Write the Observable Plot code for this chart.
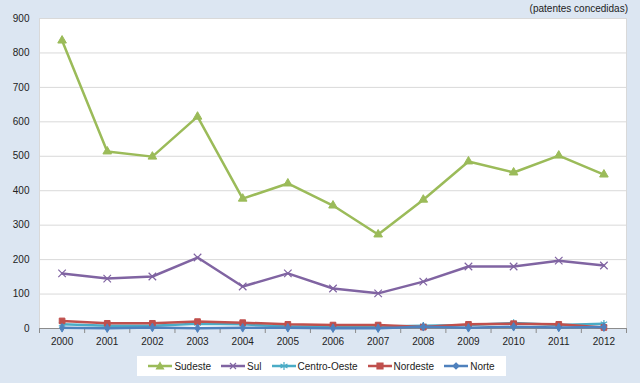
<!DOCTYPE html>
<html>
<head>
<meta charset="utf-8">
<script src="https://cdn.jsdelivr.net/npm/d3@7"></script>
<script src="https://cdn.jsdelivr.net/npm/@observablehq/plot@0.6"></script>
<style>
  body { margin: 0; }
  #wrap { position: relative; width: 640px; height: 383px; background: #dce6f2; font-family: "Liberation Sans", Arial, sans-serif; overflow: hidden; }
  #title { position: absolute; right: 12px; top: 3px; font-size: 10px; color: #222; }
  #chart { position: absolute; left: 0; top: 0; }
  #legend { position: absolute; left: 137px; top: 356px; width: 369px; height: 20px; background: #fff; display: flex; align-items: center; justify-content: center; gap: 10px; font-size: 10px; color: #222; }
  .item { display: flex; align-items: center; gap: 2px; }
</style>
</head>
<body>
<div id="wrap">
  <div id="chart"></div>
  <div id="title">(patentes concedidas)</div>
  <div id="legend"></div>
</div>
<script>
const years = [2000, 2001, 2002, 2003, 2004, 2005, 2006, 2007, 2008, 2009, 2010, 2011, 2012];
const sudeste = [836, 514, 499, 615, 377, 421, 357, 273, 374, 485, 453, 502, 447];
const sul = [160, 145, 151, 206, 122, 160, 116, 102, 136, 180, 180, 197, 183];
const centroOeste = [12, 8, 8, 14, 12, 6, 6, 6, 8, 10, 16, 10, 14];
const nordeste = [22, 15, 15, 20, 17, 12, 10, 10, 4, 12, 14, 12, 3];
const norte = [2, 1, 3, 1, 2, 2, 1, 1, 5, 2, 5, 3, 4];
const yTicks = [0, 100, 200, 300, 400, 500, 600, 700, 800, 900];

const seriesNames = ["Sudeste", "Sul", "Centro-Oeste", "Nordeste", "Norte"];
const seriesValues = [sudeste, sul, centroOeste, nordeste, norte];
const colors = ["#9bbb59", "#8064a2", "#4bacc6", "#c0504d", "#4f81bd"];
const symbols = ["triangle", "times", "asterisk", "square", "diamond"];
const sizes = [3.2, 3.5, 3.5, 3.2, 2.6];

const data = [];
seriesNames.forEach((s, k) => years.forEach((yr, i) => data.push({series: s, year: yr, value: seriesValues[k][i]})));

const boundaries = years.map(y => y - 0.5).concat([years[years.length - 1] + 0.5]);

const marks = [
  Plot.frame({fill: "white", stroke: "#d9d9d9"}),
  Plot.gridY(yTicks.filter(v => v > 0), {stroke: "#d9d9d9", strokeOpacity: 1}),
  Plot.axisY(yTicks, {tickSize: 0, tickPadding: 10, fontSize: 10, fill: "#222", label: null}),
  Plot.ruleY([0], {stroke: "#8c8c8c"}),
  Plot.axisX(boundaries, {tickSize: 5, tickFormat: () => "", stroke: "#8c8c8c", label: null}),
  Plot.axisX(years, {tickSize: 0, tickPadding: 9, tickFormat: d => String(d), fontSize: 10, fill: "#222", label: null})
];
seriesNames.forEach((s, k) => {
  const d = data.filter(r => r.series === s);
  const open = symbols[k] === "times" || symbols[k] === "asterisk";
  marks.push(Plot.line(d, {x: "year", y: "value", stroke: colors[k], strokeWidth: 2.5}));
  marks.push(Plot.dot(d, {x: "year", y: "value", symbol: () => symbols[k], r: sizes[k],
    fill: open ? "none" : colors[k], stroke: colors[k], strokeWidth: open ? 1.2 : 1}));
});

const chart = Plot.plot({
  width: 640,
  height: 352,
  marginTop: 18,
  marginBottom: 24,
  marginLeft: 39,
  marginRight: 14,
  style: {background: "transparent", fontFamily: "Liberation Sans, Arial, sans-serif", fontSize: "10px"},
  x: {type: "linear", domain: [years[0] - 0.5, years[years.length - 1] + 0.5], axis: null, label: null},
  y: {domain: [0, 900], axis: null, label: null},
  symbol: {type: "identity"},
  marks
});
document.getElementById("chart").appendChild(chart);

// legend
const legend = document.getElementById("legend");
const shapePaths = {
  triangle: "M12,1.5 L15.5,8 L8.5,8 Z",
  times: "M9,2 L15,8 M15,2 L9,8",
  asterisk: "M12,1 L12,9 M8.5,3 L15.5,7 M15.5,3 L8.5,7",
  square: "M9,2 L15,2 L15,8 L9,8 Z",
  diamond: "M12,2 L15,5 L12,8 L9,5 Z"
};
seriesNames.forEach((s, k) => {
  const item = document.createElement("div");
  item.className = "item";
  const filled = !(symbols[k] === "times" || symbols[k] === "asterisk");
  item.innerHTML = `<svg width="24" height="10"><line x1="0" x2="24" y1="5" y2="5" stroke="${colors[k]}" stroke-width="2.5"/><path d="${shapePaths[symbols[k]]}" fill="${filled ? colors[k] : "none"}" stroke="${colors[k]}" stroke-width="1.2"/></svg><span>${s}</span>`;
  legend.appendChild(item);
});
</script>
</body>
</html>
